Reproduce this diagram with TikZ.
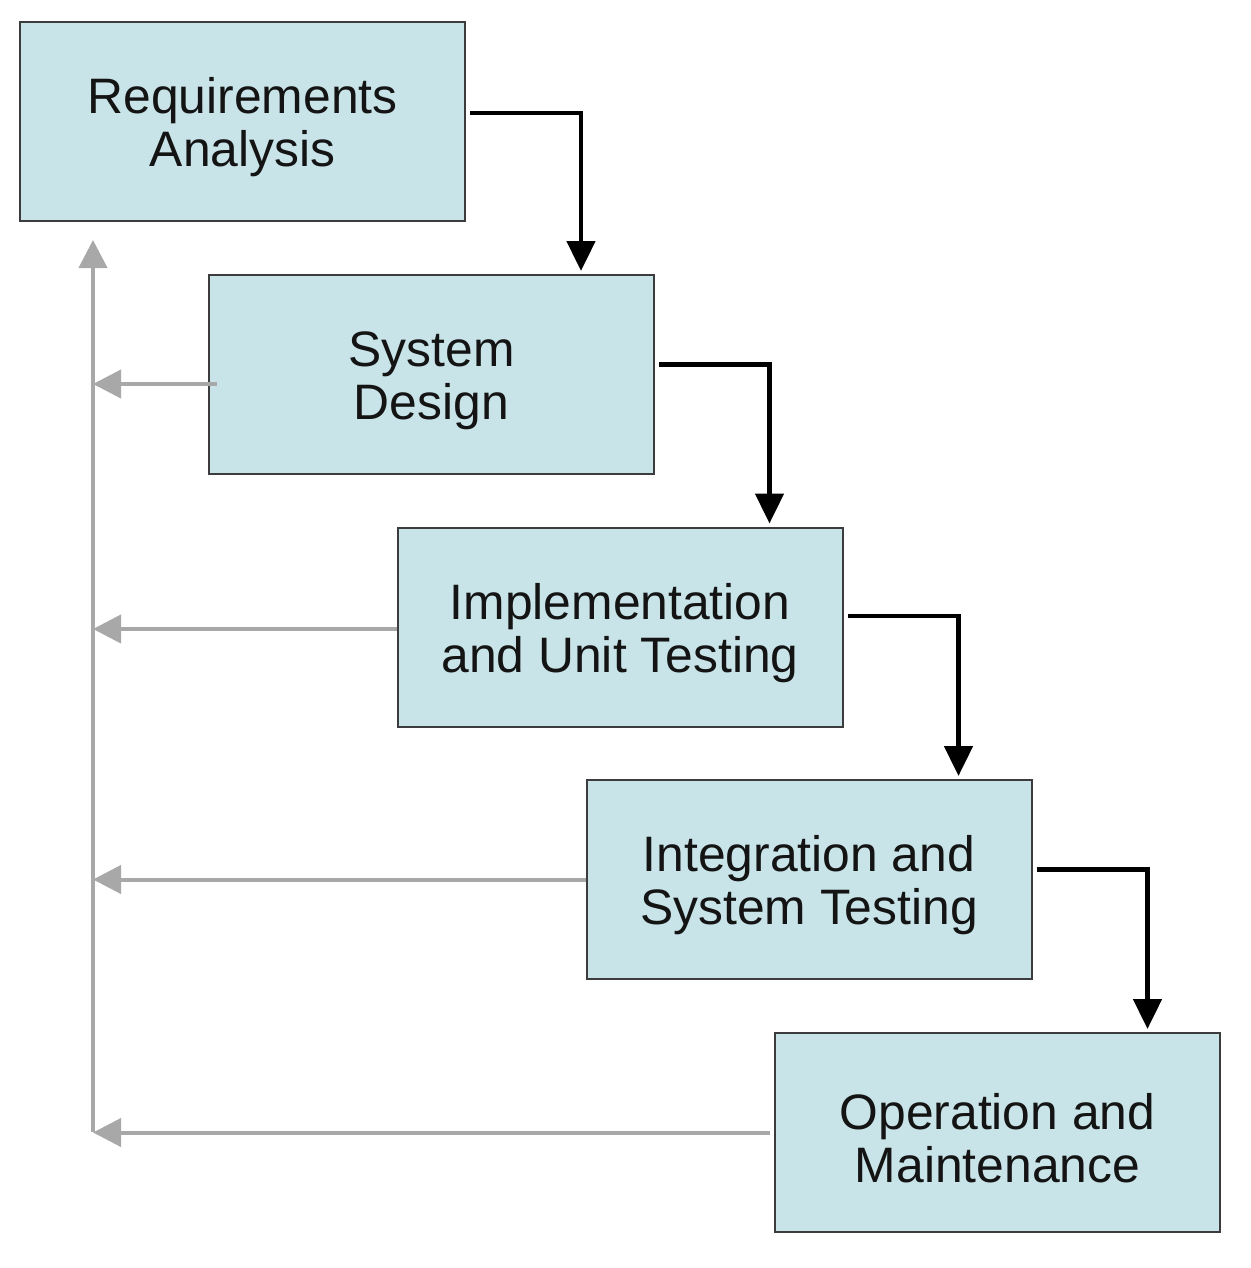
\documentclass[tikz,border=0pt]{standalone}
\usepackage{fontspec}
\setmainfont{Liberation Sans}
\usetikzlibrary{arrows.meta}
\definecolor{boxfill}{HTML}{C8E4E8}
\definecolor{boxline}{HTML}{3C3C3C}
\definecolor{backgray}{HTML}{A8A8A8}
\newcommand\firstline{\rule{0pt}{24pt}}
\tikzset{
  phase/.style={draw=boxline, line width=1pt, fill=boxfill, minimum width=222.5pt, minimum height=99.5pt,
    inner sep=0pt, align=center, font=\fontsize{24.9}{26.5}\selectfont, text=black!92},
  flow/.style={draw=black, line width=2.4pt, -{Triangle[width=14pt,length=15pt]}},
  back/.style={draw=backgray, line width=2pt, -{Triangle[width=14pt,length=14pt]}}
}
\begin{document}
\begin{tikzpicture}[x=0.5pt,y=-0.5pt]
\useasboundingbox[fill=white] (0,0) rectangle (1250,1268);
\node[phase] (r1) at (242.5,121.5) {\firstline Requirements\\Analysis};
\node[phase] (r2) at (431.5,374.5) {\firstline System\\Design};
\node[phase] (r3) at (620,627) {\firstline Implementation\\and Unit Testing};
\node[phase] (r4) at (809,879.5) {\firstline Integration and\\System Testing};
\node[phase] (r5) at (997.5,1132.5) {\firstline Operation and\\Maintenance};
% forward flow
\draw[flow] ([xshift=2pt,yshift=4.25pt]r1.east) -| ([xshift=74.75pt,yshift=1.5pt]r2.north);
\draw[flow] ([xshift=2pt,yshift=5pt]r2.east) -| ([xshift=74.75pt,yshift=1.5pt]r3.north);
\draw[flow] ([xshift=2pt,yshift=5.5pt]r3.east) -| ([xshift=74.75pt,yshift=1.5pt]r4.north);
\draw[flow] ([xshift=2pt,yshift=5pt]r4.east) -| ([xshift=75pt,yshift=1.5pt]r5.north);
% feedback
\coordinate (top) at (93,240);
\coordinate (bot) at (93,1132);
\draw[back] (bot) -- (top);
\coordinate (s2) at ([xshift=4.5pt,yshift=-4.75pt]r2.west);
\coordinate (s3) at ([yshift=-1pt]r3.west);
\coordinate (s4) at (r4.west);
\coordinate (s5) at ([xshift=-2pt]r5.west);
\draw[back] (s2) -- (s2 -| top);
\draw[back] (s3) -- (s3 -| top);
\draw[back] (s4) -- (s4 -| top);
\draw[back] (s5) -- (s5 -| top);
\end{tikzpicture}
\end{document}
